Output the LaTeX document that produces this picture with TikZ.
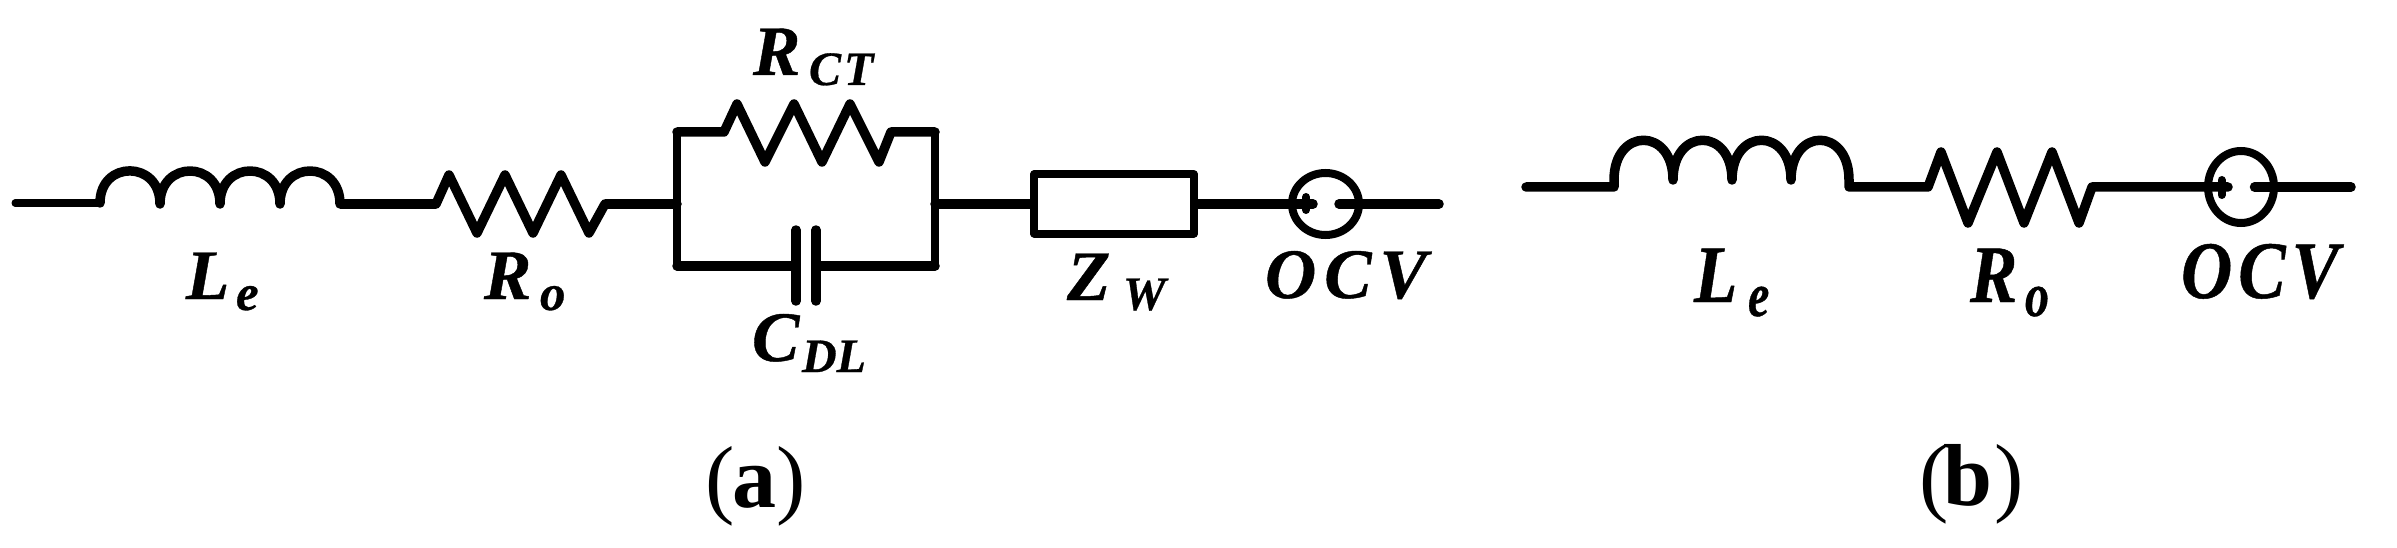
\documentclass[tikz,border=0pt]{standalone}
\usepackage{fontspec}
\setmainfont{Liberation Serif}[BoldItalicFeatures={FakeBold=0.6}]
\usetikzlibrary{shapes.geometric}
\tikzset{
  wire/.style={line width=9.5pt,line cap=round,line join=round,black},
  thinwire/.style={line width=7pt,line cap=round,line join=round,black},
  lbl/.style={anchor=base west,inner sep=0pt,outer sep=0pt,black},
  boxel/.style={draw,line width=8pt,rectangle,inner sep=0pt,minimum width=159.5pt,minimum height=59pt,line join=round},
  ocvring/.style={draw,line width=8pt,ellipse,inner sep=0pt}
}
\newcommand{\mainsz}{\fontsize{71}{80}\selectfont\bfseries\itshape}
\newcommand{\subsz}{\fontsize{48}{54}\selectfont\bfseries\itshape}
\newcommand{\subbig}{\fontsize{51}{60}\selectfont\bfseries\itshape}
\newcommand{\capsz}{\fontsize{88}{96}\selectfont}
\newcommand{\tall}[1]{\scalebox{1}[1.15]{#1}}
\newcommand{\tallsub}[1]{\scalebox{1}[1.3]{#1}}
\begin{document}
\begin{tikzpicture}[x=1pt,y=-1pt]
\useasboundingbox (0,0) rectangle (2397,548);
% ---- (a) ----
\coordinate (a0) at (15,203);
\coordinate (al1) at (100,203);
\coordinate (al2) at (340,204);
\coordinate (ar1) at (436,204);
\coordinate (ar2) at (605,204);
\coordinate (jl) at (677,204);
\coordinate (jr) at (935,204);
\coordinate (tl) at (677,132);
\coordinate (tr) at (935,132);
\coordinate (bl) at (677,266);
\coordinate (br) at (935,266);
\coordinate (rc1) at (724,132);
\coordinate (rc2) at (891,132);
\coordinate (c1) at (796,266);
\coordinate (c2) at (816,266);
\node[boxel] (zw) at (1114,204) {};
\node[ocvring,minimum width=67pt,minimum height=62pt] (ocva) at (1325.5,204) {};
\coordinate (pa) at (1313,204);
\coordinate (ma) at (1339,204);
\coordinate (ea) at (1439,204);
\draw[thinwire] (a0) -- (al1);
\draw[wire] (al1) .. controls (100,160) and (160,160) .. (160,204)
   .. controls (160,160) and (220,160) .. (220,204)
   .. controls (220,160) and (280,160) .. (280,204)
   .. controls (280,160) and (340,160) .. (al2) -- (ar1)
   -- (449,175) -- (477,233) -- (505,175) -- (533,233) -- (561,175) -- (589,233) -- (ar2) -- (jl);
\draw[wire,line width=7.5pt] (tl) -- (bl) (tr) -- (br);
\draw[wire] (tl) -- (rc1) -- (737,104) -- (765,162) -- (794,104) -- (822,162) -- (850,104) -- (879,162) -- (rc2) -- (tr);
\draw[wire] (bl) -- (c1) (c2) -- (br);
\draw[wire] (796,230) -- (c1) -- (796,301);
\draw[wire] (816,230) -- (c2) -- (816,301);
\draw[wire] (jr) -- (zw.west);
\draw[wire] (zw.east) -- (pa);
\draw[wire] (ma) -- (ea);
\draw[line width=8pt,line cap=round] (1306,197) -- (1306,210);
\node[lbl] (la) at (186,299) {\mainsz L};
\node[lbl] (lae) at (236,310) {\subbig e};
\node[lbl] (ra) at (484,299) {\mainsz R};
\node[lbl] (rao) at (540,310) {\subbig o};
\node[lbl] (rct) at (753,75) {\mainsz R};
\node[lbl] (rcts) at (809,85) {\subsz C\kern3pt T};
\node[lbl] (cdl) at (752,361) {\mainsz C};
\node[lbl] (cdls) at (802,372) {\subsz DL};
\node[lbl] (zwl) at (1067,300) {\mainsz Z};
\node[lbl] (zwls) at (1123,310) {\subsz W};
\node[lbl] (oa) at (1265,298) {\mainsz O\kern8pt C\kern8pt V};
\node[lbl] (capa) at (705,507) {\capsz(\kern-2pt{\bfseries a})};
% ---- (b) ----
\coordinate (b0) at (1526,187);
\coordinate (bl1) at (1614,187);
\coordinate (bl2) at (1849,187);
\coordinate (br1) at (1928,187);
\coordinate (br2) at (2092,187);
\node[ocvring,minimum width=66pt,minimum height=72pt] (ocvb) at (2241,187) {};
\coordinate (pb) at (2228,187);
\coordinate (mb) at (2254.5,187);
\coordinate (eb) at (2351,187);
\draw[wire] (b0) -- (bl1) -- (1614,180)
   .. controls (1614,127) and (1673,127) .. (1673,180)
   .. controls (1673,127) and (1732,127) .. (1732,180)
   .. controls (1732,127) and (1791,127) .. (1791,180)
   .. controls (1791,127) and (1849,127) .. (1849,180)
   -- (bl2) -- (br1)
   -- (1941,152) -- (1968,223) -- (1997,152) -- (2024,223) -- (2052,152) -- (2079,223) -- (br2) -- (pb);
\draw[wire] (mb) -- (eb);
\draw[line width=8pt,line cap=round] (2221.5,180) -- (2221.5,195);
\node[lbl] (lb) at (1694,302) {\tall{\mainsz L}};
\node[lbl] (lbe) at (1748,316) {\tallsub{\subsz e}};
\node[lbl] (rb) at (1970,302) {\tall{\mainsz R}};
\node[lbl] (rb0) at (2025,316) {\tallsub{\subsz o}};
\node[lbl] (ob) at (2181,298) {\tall{\mainsz O\kern6pt C\kern6pt V}};
\node[lbl] (capb) at (1919,505) {\capsz(\kern-5pt{\bfseries b}\kern2pt)};
\end{tikzpicture}
\end{document}
